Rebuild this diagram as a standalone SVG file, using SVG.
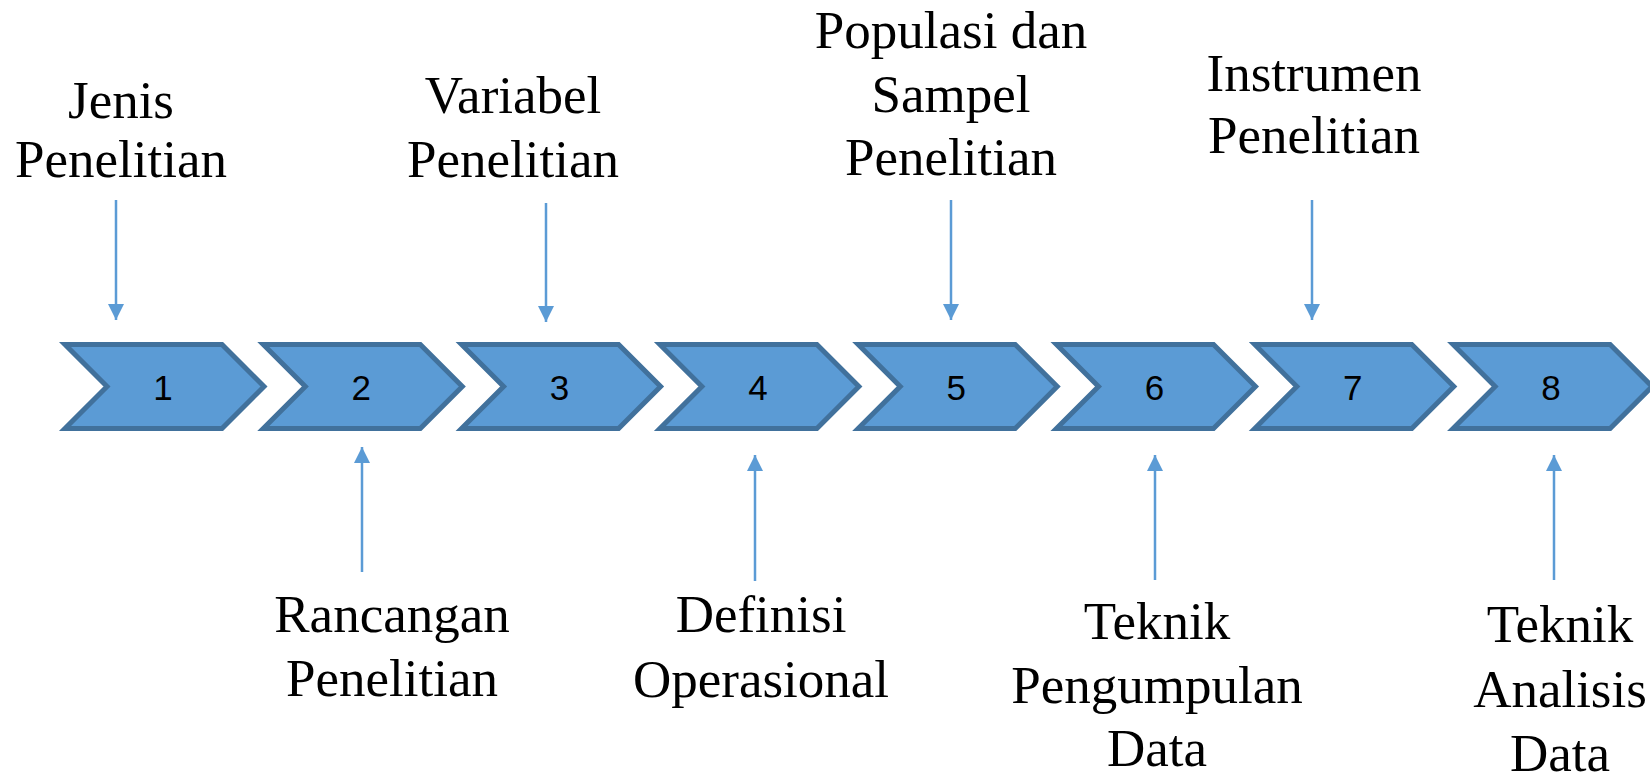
<svg xmlns="http://www.w3.org/2000/svg" width="1650" height="773" viewBox="0 0 1650 773">
<style>
.chev{fill:#5B9BD5;stroke:#41719C;stroke-width:5;stroke-linejoin:miter;stroke-miterlimit:10}
.num{font-family:"Liberation Sans",Arial,sans-serif;font-size:35px;fill:#000;text-anchor:middle}
.lbl{font-family:"Liberation Serif","Times New Roman",serif;font-size:53px;fill:#000;text-anchor:middle}
.arr{stroke:#5B9BD5;stroke-width:2.5;fill:none;marker-end:url(#ah)}
</style>
<defs>
<marker id="ah" markerUnits="userSpaceOnUse" markerWidth="16" markerHeight="16" refX="16" refY="8" orient="auto">
<path d="M0,0 L16,8 L0,16 z" fill="#5B9BD5"/>
</marker>
<polygon id="chevshape" points="6,344.5 163,344.5 205,386.5 163,428.5 6,428.5 48,386.5"/>
</defs>
<rect width="1650" height="773" fill="#fff"/>
<g id="node1" transform="translate(59,0)"><use href="#chevshape" class="chev"/><text class="num" x="104" y="400">1</text></g>
<g id="node2" transform="translate(257.3,0)"><use href="#chevshape" class="chev"/><text class="num" x="104" y="400">2</text></g>
<g id="node3" transform="translate(455.6,0)"><use href="#chevshape" class="chev"/><text class="num" x="104" y="400">3</text></g>
<g id="node4" transform="translate(653.9,0)"><use href="#chevshape" class="chev"/><text class="num" x="104" y="400">4</text></g>
<g id="node5" transform="translate(852.2,0)"><use href="#chevshape" class="chev"/><text class="num" x="104" y="400">5</text></g>
<g id="node6" transform="translate(1050.5,0)"><use href="#chevshape" class="chev"/><text class="num" x="104" y="400">6</text></g>
<g id="node7" transform="translate(1248.8,0)"><use href="#chevshape" class="chev"/><text class="num" x="104" y="400">7</text></g>
<g id="node8" transform="translate(1447.1,0)"><use href="#chevshape" class="chev"/><text class="num" x="104" y="400">8</text></g>
<g id="label1"><text class="lbl" x="121" y="118">Jenis</text><text class="lbl" x="121" y="177">Penelitian</text></g>
<g id="label3"><text class="lbl" x="513" y="113">Variabel</text><text class="lbl" x="513" y="177">Penelitian</text></g>
<g id="label5"><text class="lbl" x="951" y="48">Populasi dan</text><text class="lbl" x="951" y="112">Sampel</text><text class="lbl" x="951" y="175">Penelitian</text></g>
<g id="label7"><text class="lbl" x="1314" y="91">Instrumen</text><text class="lbl" x="1314" y="153">Penelitian</text></g>
<g id="label2"><text class="lbl" x="392" y="632">Rancangan</text><text class="lbl" x="392" y="696">Penelitian</text></g>
<g id="label4"><text class="lbl" x="761" y="632">Definisi</text><text class="lbl" x="761" y="697">Operasional</text></g>
<g id="label6"><text class="lbl" x="1157" y="639">Teknik</text><text class="lbl" x="1157" y="703">Pengumpulan</text><text class="lbl" x="1157" y="766">Data</text></g>
<g id="label8"><text class="lbl" x="1560" y="642">Teknik</text><text class="lbl" x="1560" y="707">Analisis</text><text class="lbl" x="1560" y="771">Data</text></g>
<g id="connectors">
<line class="arr" x1="116" y1="200" x2="116" y2="320"/>
<line class="arr" x1="546" y1="203" x2="546" y2="322"/>
<line class="arr" x1="951" y1="200" x2="951" y2="320"/>
<line class="arr" x1="1312" y1="200" x2="1312" y2="320"/>
<line class="arr" x1="362" y1="572" x2="362" y2="447"/>
<line class="arr" x1="755" y1="581" x2="755" y2="455"/>
<line class="arr" x1="1155" y1="580" x2="1155" y2="455"/>
<line class="arr" x1="1554" y1="580" x2="1554" y2="455"/>
</g>
</svg>
